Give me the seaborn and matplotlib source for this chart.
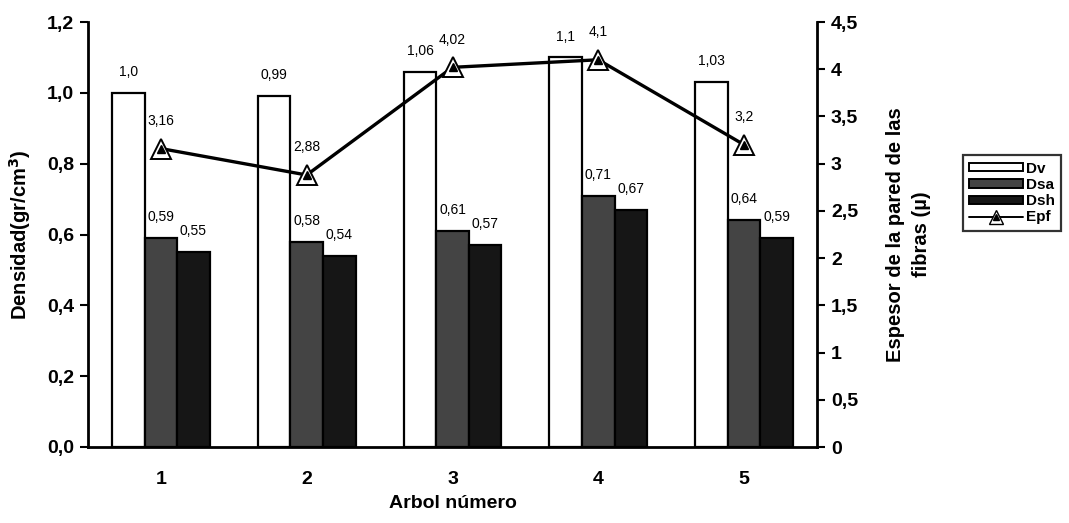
import numpy as np
import pandas as pd
import matplotlib
matplotlib.use("Agg")
import matplotlib.pyplot as plt
from matplotlib.lines import Line2D
from matplotlib.patches import Patch
from matplotlib.legend_handler import HandlerTuple
import seaborn as sns

# --- data -------------------------------------------------------------
arboles = ["1", "2", "3", "4", "5"]
dv = [1.0, 0.99, 1.06, 1.10, 1.03]
dsa = [0.59, 0.58, 0.61, 0.71, 0.64]
dsh = [0.55, 0.54, 0.57, 0.67, 0.59]
epf = [3.16, 2.88, 4.02, 4.10, 3.20]

dv_labels = ["1,0", "0,99", "1,06", "1,1", "1,03"]
left_ticks = [0.0, 0.2, 0.4, 0.6, 0.8, 1.0, 1.2]
right_ticks = [0, 0.5, 1, 1.5, 2, 2.5, 3, 3.5, 4, 4.5]


def coma(v, nd=None):
    s = f"{v:.{nd}f}" if nd is not None else f"{v:g}"
    return s.replace(".", ",")


df = pd.DataFrame({
    "arbol": arboles * 3,
    "serie": ["Dv"] * 5 + ["Dsa"] * 5 + ["Dsh"] * 5,
    "valor": dv + dsa + dsh,
})

# --- style ------------------------------------------------------------
sns.set_style("white")
plt.rcParams["font.family"] = ["Liberation Sans", "DejaVu Sans"]
plt.rcParams["font.weight"] = "bold"
plt.rcParams["text.color"] = "black"
plt.rcParams["axes.labelcolor"] = "black"
plt.rcParams["xtick.color"] = "black"
plt.rcParams["ytick.color"] = "black"

fig = plt.figure(figsize=(10.69, 5.23), dpi=100)
ax = fig.add_axes([88 / 1069, 1 - 447 / 523, (817 - 88) / 1069, (447 - 22) / 523])

colors = ["#ffffff", "#444444", "#161616"]
sns.barplot(data=df, x="arbol", y="valor", hue="serie",
            hue_order=["Dv", "Dsa", "Dsh"], palette=colors,
            edgecolor="black", linewidth=1.6, width=0.67, gap=0,
            legend=False, ax=ax)

ax.set_xlim(-0.5, 4.5)
ax.set_ylim(0, 1.2)
ax.set_yticks(left_ticks)
ax.set_yticklabels([coma(t, 1) for t in left_ticks], fontsize=14, fontweight="bold")
ax.set_xticks(range(5))
ax.set_xticklabels(arboles, fontsize=14, fontweight="bold")
ax.set_xticks([0.5, 1.5, 2.5, 3.5], minor=True)
ax.tick_params(axis="x", which="major", length=0, pad=17)
ax.tick_params(axis="x", which="minor", length=6, width=1.5, direction="out")
ax.tick_params(axis="y", length=6, width=1.5, direction="out", left=True, pad=4)
ax.set_xlabel("Arbol número", fontsize=14, fontweight="bold", labelpad=5)
ax.set_ylabel("Densidad(gr/cm$^3$)", fontsize=14.5, fontweight="bold", labelpad=10)

for side in ["left", "bottom"]:
    ax.spines[side].set_linewidth(2)
    ax.spines[side].set_color("black")
ax.spines["top"].set_visible(False)
ax.spines["right"].set_visible(False)

# value labels on bars
label_sets = [dv_labels, [coma(v, 2) for v in dsa], [coma(v, 2) for v in dsh]]
for cont, labs in zip(ax.containers, label_sets):
    ax.bar_label(cont, labels=labs, padding=10, fontsize=10, fontweight="normal")

# --- fibre wall thickness on secondary axis -----------------------------
ax2 = ax.twinx()
xpos = np.arange(len(arboles))
sns.lineplot(x=xpos, y=epf, ax=ax2, color="black", linewidth=2.4, zorder=3)
ax2.plot(xpos, epf, linestyle="none", marker="^", markersize=14,
         markerfacecolor="white", markeredgecolor="black", markeredgewidth=1.4, zorder=4)
ax2.plot(xpos, epf, linestyle="none", marker="^", markersize=6,
         markerfacecolor="black", markeredgecolor="black", zorder=5)
for x, v in zip(xpos, epf):
    ax2.annotate(coma(v), (x, v), xytext=(0, 20), textcoords="offset points",
                 ha="center", va="center", fontsize=10, fontweight="normal")

ax2.set_ylim(0, 4.5)
ax2.set_yticks(right_ticks)
ax2.set_yticklabels([coma(t) for t in right_ticks], fontsize=14, fontweight="bold")
ax2.tick_params(axis="y", length=6, width=1.5, direction="out", right=True, pad=4)
ax2.set_ylabel("Espesor de la pared de las\nfibras (µ)", fontsize=14.5,
               fontweight="bold", labelpad=20, linespacing=1.5)
for side in ["left", "bottom", "top"]:
    ax2.spines[side].set_visible(False)
ax2.spines["right"].set_linewidth(2)
ax2.spines["right"].set_color("black")
ax2.set_xlim(-0.5, 4.5)

# --- legend -------------------------------------------------------------
handles = [
    Patch(facecolor=colors[0], edgecolor="black", linewidth=1.4),
    Patch(facecolor=colors[1], edgecolor="black", linewidth=1.4),
    Patch(facecolor=colors[2], edgecolor="black", linewidth=1.4),
    (Line2D([], [], color="black", linewidth=1.4, marker="^", markersize=10,
            markerfacecolor="white", markeredgecolor="black"),
     Line2D([], [], linestyle="none", marker="^", markersize=4, color="black")),
]
leg = fig.legend(handles, ["Dv", "Dsa", "Dsh", "Epf"],
                 handler_map={tuple: HandlerTuple(ndivide=1, pad=0)},
                 loc="center left", bbox_to_anchor=(963 / 1069, 1 - 193 / 523),
                 frameon=True, fancybox=False, edgecolor="black",
                 prop={"size": 11, "weight": "bold"}, handlelength=3.5,
                 handleheight=0.45, handletextpad=0.2, labelspacing=0.15,
                 borderpad=0.4, borderaxespad=0)
leg.get_frame().set_linewidth(1.6)

fig.savefig("out.png", dpi=100)
